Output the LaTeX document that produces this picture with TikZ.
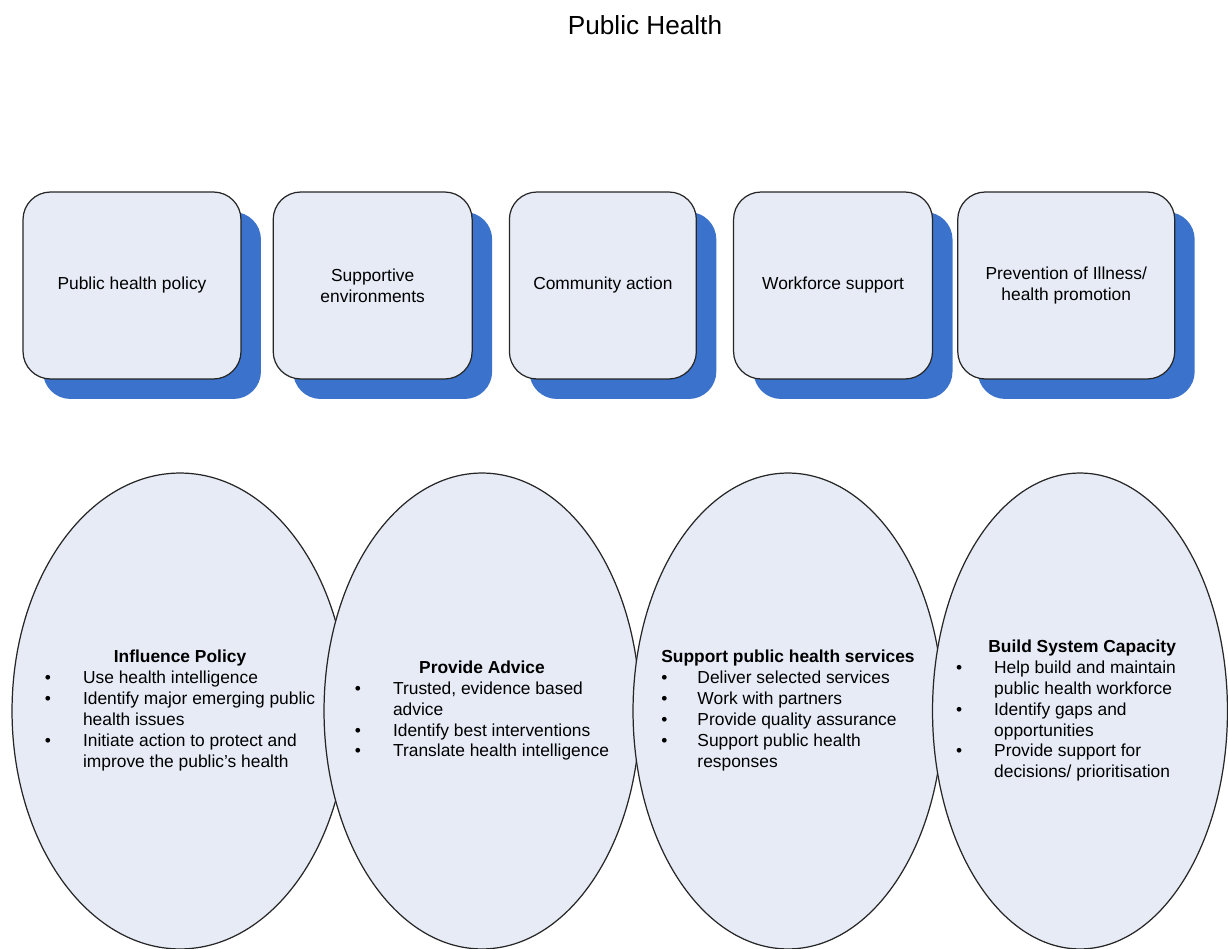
\documentclass[tikz,border=0pt]{standalone}
\usepackage{fontspec}
\setmainfont{Liberation Sans}
\usetikzlibrary{positioning, shapes.geometric, shadows}
\definecolor{paleblue}{RGB}{230,235,246}
\definecolor{shadowblue}{RGB}{58,114,204}

\begin{document}
\begin{tikzpicture}[
x=0.02cm, y=-0.02cm,
area/.style={rectangle, draw=black!85, line width=0.7pt, fill=paleblue, rounded corners=0.55cm, minimum height=3.74cm, align=center, font=\fontsize{9.9}{11.9}\selectfont, drop shadow={shadow xshift=0.4cm, shadow yshift=-0.4cm, fill=shadowblue, opacity=1}},
role/.style={ellipse, draw=black!85, line width=0.7pt, fill=paleblue, minimum height=9.52cm, inner sep=0pt},
roletext/.style={font=\fontsize{9.9}{11.9}\selectfont, inner sep=0pt}
]

    \useasboundingbox (0,0) rectangle (1228,949);

    \node[font=\fontsize{14.9}{17}\selectfont, anchor=base] (title) at (645,35) {Public Health};

    % action areas
    \node[area, minimum width=4.36cm] (pol) at (132,285.5) {Public health policy};
    \node[area, minimum width=3.98cm, right=0.62cm of pol] (env) {Supportive\\environments};
    \node[area, minimum width=3.74cm, right=0.72cm of env] (comm) {Community action};
    \node[area, minimum width=3.98cm, right=0.72cm of comm] (work) {Workforce support};
    \node[area, minimum width=4.34cm, right=0.48cm of work] (prev) {Prevention of Illness/\\health promotion};

    % roles
    \node[role, minimum width=6.72cm] (infl) at (180,711) {};
    \node[roletext] (inflText) at (infl) {%
    \begin{tabular}{@{}l@{\hspace{0.64cm}}l@{}}
    \multicolumn{2}{@{}c@{}}{\textbf{Influence Policy}}\\
    \textbullet & Use health intelligence\\
    \textbullet & Identify major emerging public\\
     & health issues\\
    \textbullet & Initiate action to protect and\\
     & improve the public's health
    \end{tabular}};

    \node[role, minimum width=6.32cm] (adv) at (482,711) {};
    \node[roletext] (advText) at (adv) {%
    \begin{tabular}{@{}l@{\hspace{0.64cm}}l@{}}
    \multicolumn{2}{@{}c@{}}{\textbf{Provide Advice}}\\
    \textbullet & Trusted, evidence based\\
     & advice\\
    \textbullet & Identify best interventions\\
    \textbullet & Translate health intelligence
    \end{tabular}};

    \node[role, minimum width=6.2cm] (serv) at (788,711) {};
    \node[roletext] (servText) at (serv) {%
    \begin{tabular}{@{}l@{\hspace{0.6cm}}l@{}}
    \multicolumn{2}{@{}c@{}}{\textbf{Support public health services}}\\
    \textbullet & Deliver selected services\\
    \textbullet & Work with partners\\
    \textbullet & Provide quality assurance\\
    \textbullet & Support public health\\
     & responses
    \end{tabular}};

    \node[role, minimum width=5.9cm] (cap) at (1080,711) {};
    \node[roletext] (capText) at ([xshift=-0.28cm]cap.center) {%
    \begin{tabular}{@{}l@{\hspace{0.64cm}}l@{}}
    \multicolumn{2}{@{}r@{}}{\textbf{Build System Capacity}}\\
    \textbullet & Help build and maintain\\
     & public health workforce\\
    \textbullet & Identify gaps and\\
     & opportunities\\
    \textbullet & Provide support for\\
     & decisions/ prioritisation
    \end{tabular}};

\end{tikzpicture}
\end{document}
